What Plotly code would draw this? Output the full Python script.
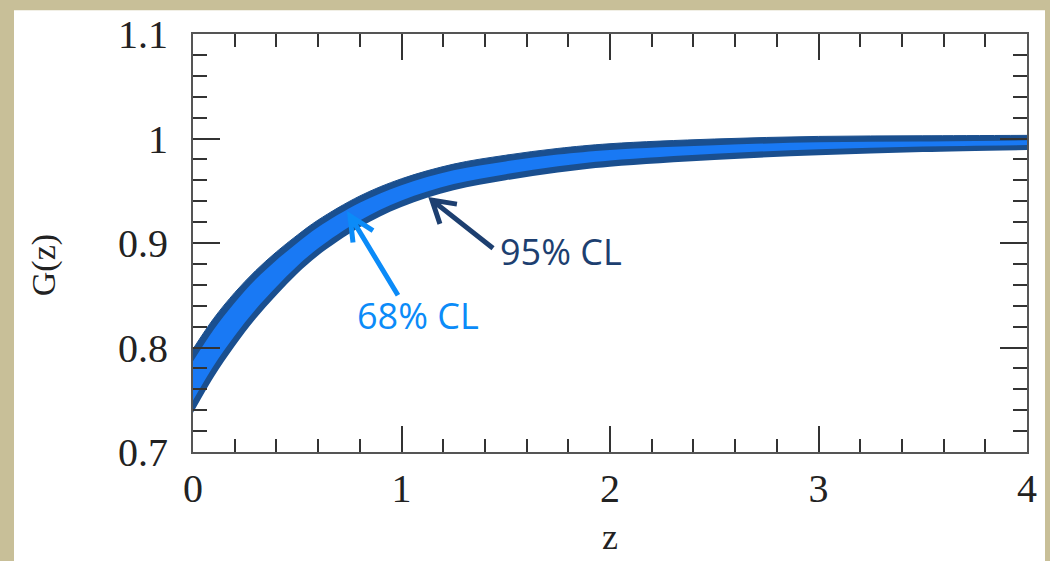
import plotly.graph_objects as go

# ---- data ----
z = [0, 0.1, 0.2, 0.3, 0.4, 0.5, 0.6, 0.8, 1.0, 1.25, 1.5, 1.75, 2.0, 2.5, 3.0, 3.5, 4.0]
hi95 = [0.7985, 0.828, 0.8525, 0.8735, 0.8915, 0.9075, 0.922, 0.945, 0.9615, 0.9755, 0.984, 0.9905, 0.995, 0.9995, 1.002, 1.0026, 1.003]
lo95 = [0.7375, 0.772, 0.8015, 0.8275, 0.850, 0.8705, 0.888, 0.915, 0.9345, 0.9505, 0.960, 0.9675, 0.973, 0.9795, 0.984, 0.987, 0.989]
hi68 = [0.7868, 0.8173, 0.8428, 0.8650, 0.8835, 0.9000, 0.9150, 0.9385, 0.9553, 0.9695, 0.9781, 0.9846, 0.9891, 0.9936, 0.9963, 0.9972, 0.9983]
lo68 = [0.7492, 0.7827, 0.8112, 0.8364, 0.8582, 0.8780, 0.8950, 0.9215, 0.9407, 0.9565, 0.9659, 0.9734, 0.9789, 0.9854, 0.9897, 0.9924, 0.9937]

x_ticks = [0, 1, 2, 3, 4]
x_ticklabels = ["0", "1", "2", "3", "4"]
y_ticks = [0.7, 0.8, 0.9, 1.0, 1.1]
y_ticklabels = ["0.7", "0.8", "0.9", "1", "1.1"]

DARK = "#1a4f8f"
BRIGHT = "#1979f4"
ARROW68 = "#0b8bf8"
ARROW95 = "#1d3f70"
TAN = "#c8bf98"
SERIF = "Liberation Serif, DejaVu Serif, serif"
SANS = "Open Sans, Noto Sans, sans-serif"

fig = go.Figure()
fig.add_trace(go.Scatter(x=z, y=lo95, mode="lines", line=dict(width=0, color=DARK, shape="spline"),
                         showlegend=False, hoverinfo="skip"))
fig.add_trace(go.Scatter(x=z, y=hi95, mode="lines", line=dict(width=1, color=DARK, shape="spline"),
                         fill="tonexty", fillcolor=DARK, showlegend=False, hoverinfo="skip"))
fig.add_trace(go.Scatter(x=z, y=lo68, mode="lines", line=dict(width=0, color=BRIGHT, shape="spline"),
                         showlegend=False, hoverinfo="skip"))
fig.add_trace(go.Scatter(x=z, y=hi68, mode="lines", line=dict(width=0, color=BRIGHT, shape="spline"),
                         fill="tonexty", fillcolor=BRIGHT, showlegend=False, hoverinfo="skip"))

# pixel scale of the plot area: 834 px per 4 units in x, 423 px per 0.4 units in y
PX_X = 834 / 4.0
PX_Y = 423 / 0.4


def arrow_path(tail, head, arm1, arm2):
    """tail/head in data coords; arms as pixel offsets from the head."""
    hx, hy = head
    a1 = (hx + arm1[0] / PX_X, hy - arm1[1] / PX_Y)
    a2 = (hx + arm2[0] / PX_X, hy - arm2[1] / PX_Y)
    return (f"M {tail[0]},{tail[1]} L {hx},{hy} "
            f"M {a1[0]},{a1[1]} L {hx},{hy} L {a2[0]},{a2[1]}")


shapes = [
    # white card on tan frame
    dict(type="rect", xref="paper", yref="paper",
         x0=(14 - 193) / 834, x1=(1045 - 193) / 834,
         y0=(452 - 570) / 423, y1=(452 - 5) / 423,
         fillcolor="white", line=dict(width=0), layer="below"),
    dict(type="path", xref="x", yref="y",
         path=arrow_path((1.439, 0.895), (1.146, 0.941), (25, 4), (8, 24)),
         line=dict(color=ARROW95, width=5)),
    dict(type="path", xref="x", yref="y",
         path=arrow_path((0.983, 0.850), (0.753, 0.926), (23, 15), (3, 27)),
         line=dict(color=ARROW68, width=5)),
]

annotations = [
    dict(text="95% CL", x=(498 - 193) / 834, y=(452 - 249) / 423, xref="paper", yref="paper",
         xanchor="left", yanchor="middle", showarrow=False,
         font=dict(family=SANS, size=36, color=ARROW95)),
    dict(text="68% CL", x=(355 - 193) / 834, y=(452 - 314) / 423, xref="paper", yref="paper",
         xanchor="left", yanchor="middle", showarrow=False,
         font=dict(family=SANS, size=36, color=ARROW68)),
    dict(text="z", x=(610 - 193) / 834, y=(452 - 538) / 423, xref="paper", yref="paper",
         xanchor="center", yanchor="middle", showarrow=False,
         font=dict(family=SERIF, size=36, color="#222")),
    dict(text="G(z)", x=(44 - 193) / 834, y=(452 - 263) / 423, xref="paper", yref="paper",
         xanchor="center", yanchor="middle", showarrow=False, textangle=-90,
         font=dict(family=SERIF, size=34, color="#222")),
]

axis_common = dict(
    showgrid=False, zeroline=False, showline=True, linecolor="#555", linewidth=2,
    mirror="allticks", ticks="inside", tickcolor="#333", tickwidth=2,
    tickfont=dict(family=SERIF, size=40, color="#222"),
)

fig.update_layout(
    width=1050, height=561,
    margin=dict(l=193, r=23, t=29, b=109),
    paper_bgcolor=TAN, plot_bgcolor="white",
    shapes=shapes, annotations=annotations,
    xaxis=dict(range=[0, 4], tickvals=x_ticks, ticktext=x_ticklabels, ticklen=26,
               minor=dict(dtick=0.2, ticklen=13, ticks="inside", tickcolor="#333", tickwidth=2),
               ticklabelstandoff=0, **axis_common),
    yaxis=dict(range=[0.7, 1.1], tickvals=y_ticks, ticktext=y_ticklabels, ticklen=27,
               minor=dict(dtick=0.02, ticklen=14, ticks="inside", tickcolor="#333", tickwidth=2),
               ticklabelstandoff=15, **axis_common),
)

fig.write_html("out.html")
